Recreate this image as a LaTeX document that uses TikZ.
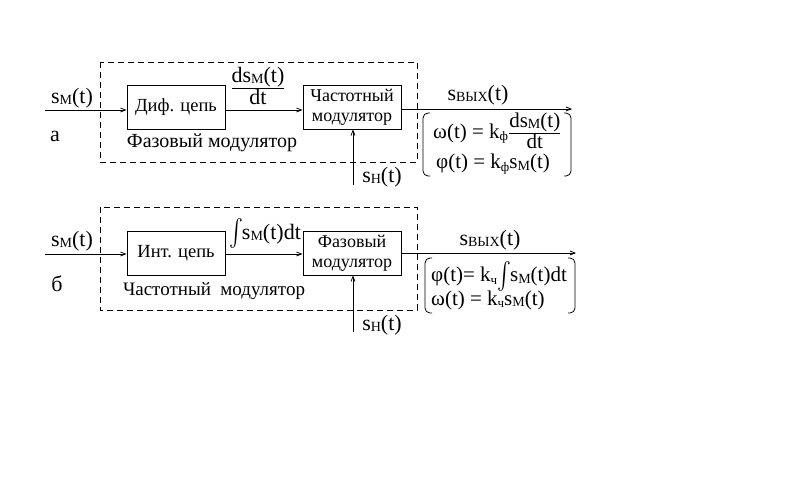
\RequirePackage{fix-cm}
\documentclass[tikz,border=0pt]{standalone}
\usepackage{exscale}
\usepackage{fontspec}
\setmainfont{Liberation Serif}
\usetikzlibrary{arrows.meta}
\newcommand{\sbx}[1]{\raisebox{-1.5pt}{\fontsize{14}{14}\selectfont #1}}
\newcommand{\sbk}[1]{\raisebox{-2.5pt}{\fontsize{13}{13}\selectfont #1}}
\newcommand{\bigint}{\raisebox{-1pt}{\scalebox{1}[1.3]{$\int$}}}
\tikzset{
  blk/.style={draw, line width=0.8pt, minimum width=98pt, minimum height=44pt,
    inner sep=0pt, align=center, font=\fontsize{18}{20}\selectfont},
  blkbig/.style={blk, font=\fontsize{18.5}{20}\selectfont},
  lbl/.style={inner sep=0pt, font=\fontsize{22}{24}\selectfont},
  captxt/.style={inner sep=0pt, font=\fontsize{20}{22}\selectfont},
  eqn/.style={inner sep=0pt, anchor=west, font=\fontsize{21}{23}\selectfont},
  wire/.style={line width=0.8pt},
  arr/.style={wire, -{Straight Barb[length=5pt,width=4pt]}},
  frame/.style={line width=0.8pt, dash pattern=on 6pt off 4pt},
  brk/.style={line width=0.8pt, rounded corners=5pt},
}
\begin{document}
\begin{tikzpicture}[x=1pt,y=-1pt]
\useasboundingbox[fill=white] (0,0) rectangle (791,498);

% ---------- a ----------
\draw[frame] (100,62) rectangle (417,162);
\node[blkbig] (d1) at (176,107) {Диф. цепь};
\node[blk] (d2) at (352,107) {Частотный\\модулятор};
\coordinate (inA) at (45,110);
\coordinate (outA) at (572,109);
\coordinate (snA) at (353,185);
\draw[arr] (inA) -- (inA -| d1.west);
\draw[arr] (d1.east |- inA) -- (d2.west |- inA);
\draw[arr] (d2.east |- outA) -- (outA);
\draw[arr] (snA) -- (snA |- d2.south);

\node[lbl] (la1) at (72,98) {s\sbx{М}(t)};
\node[lbl] (la2) at (258,86) {$\frac{\hbox{ds\sbx{М}(t)}}{\hbox{dt}}$};
\node[lbl] (la3) at (55,136) {а};
\node[captxt] (la4) at (212,143) {Фазовый модулятор};
\node[lbl] (la5) at (382,177) {s\sbx{Н}(t)};
\node[lbl] (la6) at (478,95) {s\sbx{ВЫХ}(t)};

\draw[brk] (430,113) -- (423,113) -- (423,176) -- (430,176);
\draw[brk] (564,113) -- (571,113) -- (571,176) -- (564,176);
\node[eqn] (ea1) at (433,131) {ω(t) = k\sbk{ф}$\frac{\hbox{ds\sbx{М}(t)}}{\hbox{dt}}$};
\node[eqn] (ea2) at (436,164) {φ(t) = k\sbk{ф}s\sbx{М}(t)};

% ---------- b ----------
\draw[frame] (100,207) rectangle (417,310);
\node[blkbig] (b1) at (176,253) {Инт. цепь};
\node[blk] (b2) at (352,253) {Фазовый\\модулятор};
\coordinate (inB) at (45,254);
\coordinate (outB) at (576,253);
\coordinate (snB) at (353,332);
\draw[arr] (inB) -- (inB -| b1.west);
\draw[arr] (b1.east |- inB) -- (b2.west |- inB);
\draw[arr] (b2.east |- outB) -- (outB);
\draw[arr] (snB) -- (snB |- b2.south);

\node[lbl] (lb1) at (72,241) {s\sbx{М}(t)};
\node[lbl] (lb2) at (265,233) {\bigint\kern-1pt s\sbx{М}(t)dt};
\node[lbl] (lb3) at (57,284) {б};
\node[captxt, font=\fontsize{19}{21}\selectfont] (lb4) at (214,291) {Частотный\ \ модулятор};
\node[lbl] (lb5) at (382,325) {s\sbx{Н}(t)};
\node[lbl] (lb6) at (490,240) {s\sbx{ВЫХ}(t)};

\draw[brk] (432,258) -- (425,258) -- (425,313) -- (432,313);
\draw[brk] (568,258) -- (575,258) -- (575,313) -- (568,313);
\node[eqn] (eb1) at (431,276) {φ(t)= k\sbk{ч}\bigint\kern-1pt s\sbx{М}(t)dt};
\node[eqn] (eb2) at (431,300) {ω(t) = k\sbk{ч}s\sbx{М}(t)};
\end{tikzpicture}
\end{document}
